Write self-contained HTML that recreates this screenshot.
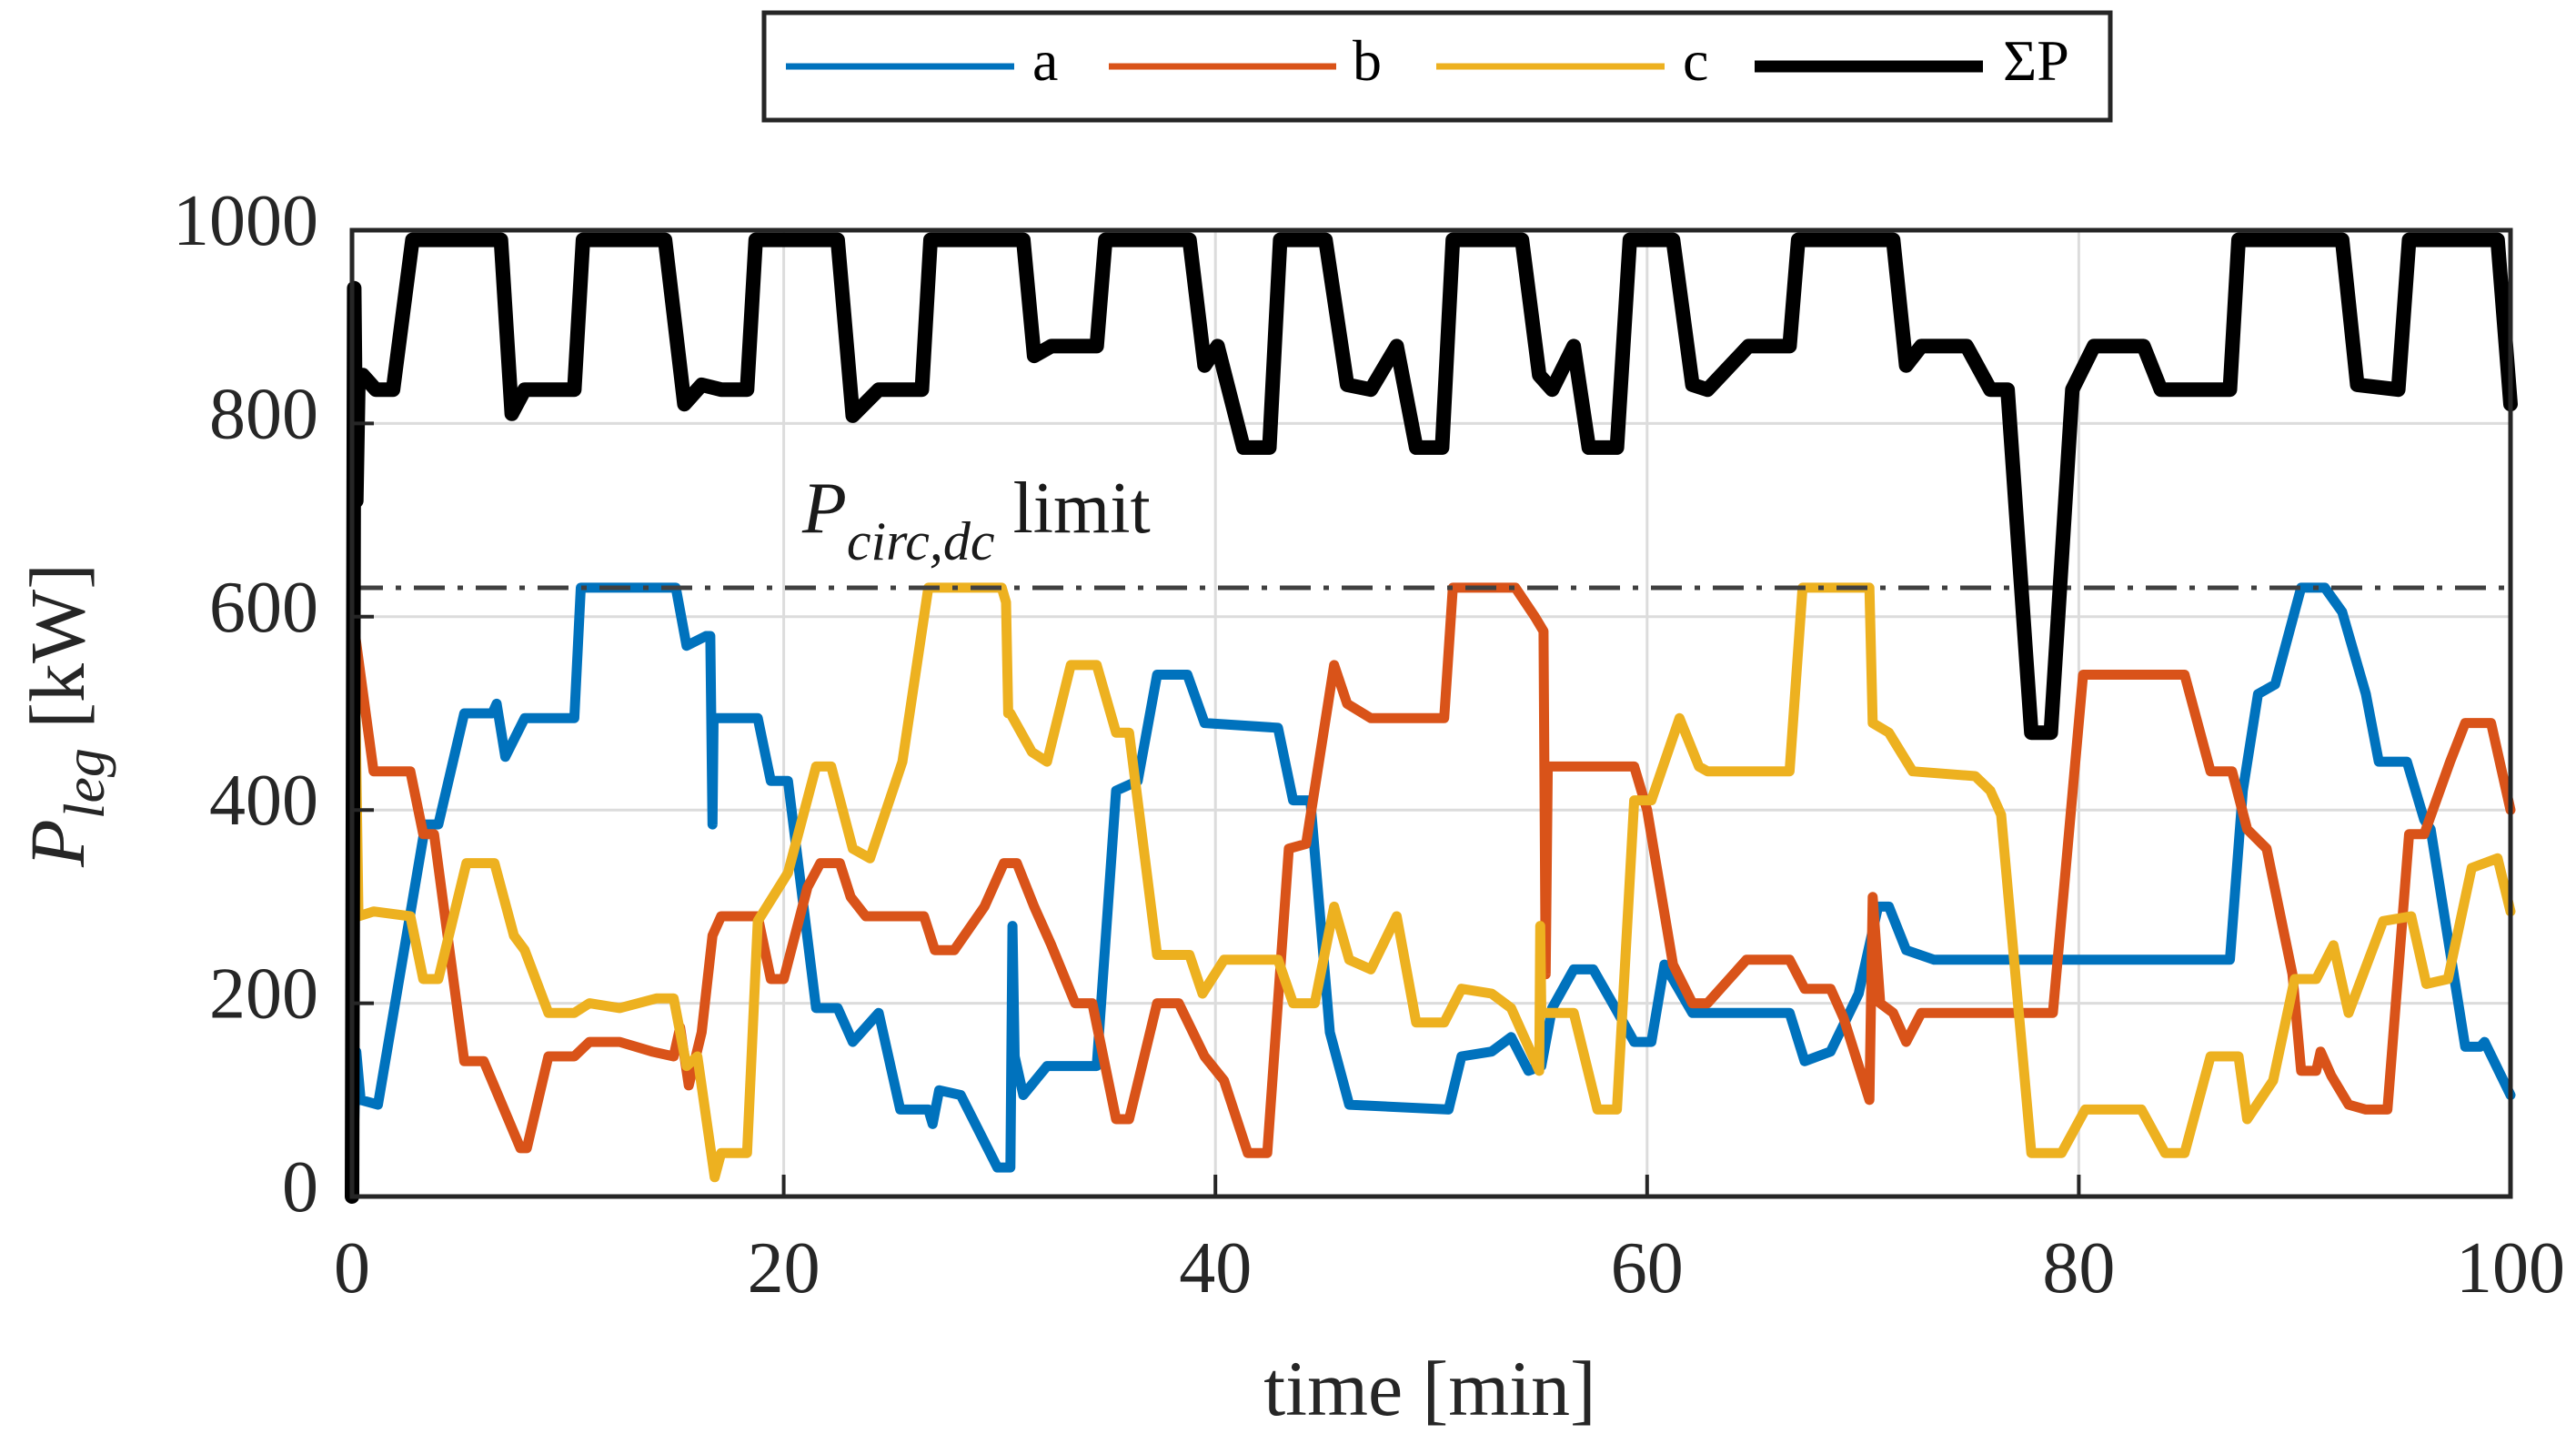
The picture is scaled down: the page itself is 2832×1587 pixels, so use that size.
<!DOCTYPE html>
<html><head><meta charset="utf-8"><style>
html,body{margin:0;padding:0;background:#fff;}
svg{display:block;font-family:"Liberation Serif",serif;}
</style></head><body>
<svg id="chart" width="2832" height="1587" viewBox="0 0 2832 1587" xmlns="http://www.w3.org/2000/svg">
<g id="grid"></g>
<g id="series"></g>
<g id="axes"></g>
<g>
<rect x="840" y="14" width="1480" height="118" fill="#fff" stroke="#262626" stroke-width="5"/>
<line x1="864" y1="73" x2="1115" y2="73" stroke="#0072BD" stroke-width="7"/>
<text x="1135" y="88" font-size="64" fill="#000">a</text>
<line x1="1219" y1="73" x2="1469" y2="73" stroke="#D95319" stroke-width="7"/>
<text x="1487" y="88" font-size="64" fill="#000">b</text>
<line x1="1579" y1="73" x2="1830" y2="73" stroke="#EDB120" stroke-width="7"/>
<text x="1850" y="88" font-size="64" fill="#000">c</text>
<line x1="1929" y1="73" x2="2180" y2="73" stroke="#000" stroke-width="13"/>
<text x="2202" y="88" font-size="64" fill="#000">ΣP</text>
</g>
<text x="1572" y="1555" font-size="86" text-anchor="middle" fill="#262626">time [min]</text>
<text transform="translate(92,786) rotate(-90)" font-size="86" text-anchor="middle" fill="#262626"><tspan font-style="italic">P</tspan><tspan font-style="italic" font-size="64" dy="22">leg</tspan><tspan dy="-22"> [kW]</tspan></text>
<text x="882" y="585" font-size="80" fill="#1a1a1a"><tspan font-style="italic">P</tspan><tspan font-style="italic" font-size="60" dy="30">circ,dc</tspan><tspan dy="-30"> limit</tspan></text>
</svg>
<script>
const xTicks=[0,20,40,60,80,100];
const yTicks=[0,200,400,600,800,1000];
const limitValue=630;
const tA=[0,0.2,0.4,1.2,3.4, 4.0,5.2,6.5,6.7,7.1, 8.0,10.3,10.6,15.0,15.5, 16.4,16.6,16.7,16.75,18.8, 19.4,20.2,21.5,22.5,23.2, 24.4,25.4,26.7,26.9,27.2, 28.2,29.9,30.5,30.6,30.7, 31.1,32.2,34.5,35.4,36.4, 37.3,38.7,39.5,42.9,43.6, 44.4,45.3,46.2,50.8,51.4, 52.8,53.7,54.5,55.1,55.6, 56.6,57.5,58.4,59.4,60.2, 60.8,62.1,66.6,67.3,68.5, 69.8,70.7,71.2,72.0,73.3, 87.0,87.6,88.3,89.1,90.3, 91.4,92.2,93.3,93.9,95.2, 96.0,96.3,97.9,98.6,98.8, 100];
const vA=[0,150,100,95,385, 385,500,500,510,455, 495,495,630,630,570, 580,580,385,495,495, 430,430,195,195,160, 190,90,90,75,110, 105,30,30,280,145, 105,135,135,420,430, 540,540,490,485,410, 410,170,95,90,145, 150,165,130,135,195, 235,235,200,160,160, 240,190,190,140,150, 210,300,300,255,245, 245,420,520,530,630, 630,605,520,450,450, 390,380,155,155,160, 105];
const tB=[0,0.15,1.0,2.7,3.3, 3.8,5.2,6.1,7.8,8.1, 9.1,10.3,11.0,12.4,13.9, 14.9,15.2,15.6,16.2,16.7, 17.1,18.8,19.4,20.0,21.1, 21.7,22.6,23.1,23.8,26.5, 27.0,27.9,29.3,30.2,30.8, 31.6,32.4,33.5,34.3,35.4, 36.0,37.3,38.3,39.5,40.4, 41.5,42.4,43.4,44.2,45.5, 46.1,47.2,50.6,51.0,53.9, 54.8,55.2,55.3,55.4,59.4, 60.0,61.2,62.1,62.8,64.6, 66.6,67.3,68.5,69.1,70.3, 70.45,70.8,71.4,72.0,72.7, 78.8,80.2,84.9,86.1,87.1, 87.8,88.7,89.9,90.3,91.0, 91.2,91.7,92.5,93.3,94.3, 95.3,96.0,97.2,97.9,99.1, 100];
const vB=[0,580,440,440,375, 375,140,140,50,50, 145,145,160,160,150, 145,175,115,170,270, 290,290,225,225,320, 345,345,310,290,290, 255,255,300,345,345, 300,260,200,200,80, 80,200,200,145,120, 45,45,360,365,550, 510,495,495,630,630, 600,585,230,445,445, 400,240,200,200,245, 245,215,215,185,100, 310,200,190,160,190, 190,540,540,440,440, 380,360,230,130,130, 150,125,95,90,90, 375,375,450,490,490, 400];
const tC=[0,0.1,0.3,1.0,2.7, 3.3,4.0,5.3,6.6,7.5, 8.0,9.1,10.3,11.0,12.4, 14.1,14.9,15.5,16.0,16.8, 17.1,18.3,18.8,20.2,21.5, 22.2,23.2,24.0,25.5,26.7, 30.1,30.3,30.4,30.5,31.5, 32.2,33.3,34.5,35.4,36.0, 37.3,38.8,39.4,40.4,42.9, 43.6,44.6,45.5,46.2,47.2, 48.4,49.3,50.6,51.4,52.8, 53.7,55.0,55.05,55.1,56.6, 57.7,58.6,59.4,60.2,61.5, 62.4,62.8,66.6,67.2,70.3, 70.45,71.2,72.3,75.2,75.9, 76.4,77.8,79.2,80.3,82.9, 84.0,84.9,86.1,87.4,87.8, 89.0,90.0,91.0,91.8,92.5, 94.1,95.4,96.1,97.1,98.2, 99.4,100];
const vC=[0,600,290,295,290, 225,225,345,345,270, 255,190,190,200,195, 205,205,135,145,20, 45,45,285,335,445, 445,360,350,450,630, 630,615,500,500,460, 450,550,550,480,480, 250,250,210,245,245, 200,200,300,245,235, 290,180,180,215,210, 195,130,280,190,190, 90,90,410,410,495, 445,440,440,630,630, 490,480,440,435,420, 395,45,45,90,90, 45,45,145,145,80, 120,225,225,260,190, 285,290,220,225,340, 350,295];
const tS=[0,0.1,0.2,0.3,0.5, 1.1,1.9,2.8,6.9,7.4, 8.0,10.3,10.7,14.5,15.4, 16.2,17.1,18.3,18.7,22.5, 23.2,24.4,26.4,26.8,31.1, 31.6,32.4,34.5,34.9,38.8, 39.5,40.1,41.3,42.5,43.0, 45.1,46.1,47.2,48.4,49.3, 50.5,51.0,54.2,55.0,55.6, 56.6,57.3,58.6,59.2,61.2, 62.1,62.8,64.7,66.6,67.0, 71.4,72.0,72.7,74.8,75.9, 76.7,77.8,78.7,79.7,80.7, 83.0,83.8,87.0,87.4,92.2, 92.9,94.8,95.3,99.4,100];
const vS=[0,940,720,850,850, 835,835,990,990,810, 835,835,990,990,820, 840,835,835,990,990, 808,835,835,990,990, 870,880,880,990,990, 860,880,775,775,990, 990,840,835,880,775, 775,990,990,850,835, 880,775,775,990,990, 840,835,880,880,990, 990,860,880,880,835, 835,480,480,835,880, 880,835,835,990,990, 840,835,990,990,820];

const NS='http://www.w3.org/2000/svg';
const L=387,R=2760,T=253,B=1315;
const xs=t=>L+(t-0)/(100-0)*(R-L);
const ys=v=>B-(v-0)/(1000-0)*(B-T);
const grid=document.getElementById('grid'),axes=document.getElementById('axes'),ser=document.getElementById('series');
function mk(tag,attrs,parent){const e=document.createElementNS(NS,tag);for(const k in attrs)e.setAttribute(k,attrs[k]);parent.appendChild(e);return e;}
xTicks.forEach(t=>{
  if(t>0&&t<100){const g=mk('line',{x1:xs(t),x2:xs(t),y1:T,y2:B,stroke:'#dcdcdc','stroke-width':3},grid);
  
  }
  const tk=mk('line',{x1:xs(t),x2:xs(t),y1:B,y2:B-24,stroke:'#262626','stroke-width':4},axes);
  
  
  const lb=mk('text',{x:xs(t),y:1420,'font-size':80,'text-anchor':'middle',fill:'#262626'},axes);
  lb.textContent=t;
  
  
});
yTicks.forEach(v=>{
  if(v>0&&v<1000){const g=mk('line',{x1:L,x2:R,y1:ys(v),y2:ys(v),stroke:'#dcdcdc','stroke-width':3},grid);
  
  }
  const tk=mk('line',{x1:L,x2:L+24,y1:ys(v),y2:ys(v),stroke:'#262626','stroke-width':4},axes);
  
  
  const lb=mk('text',{x:350,y:ys(v)+16,'font-size':80,'text-anchor':'end',fill:'#262626'},axes);
  lb.textContent=v;
  
  
});
const fr=mk('rect',{x:L,y:T,width:R-L,height:B-T,fill:'none',stroke:'#262626','stroke-width':5},axes);


function line(ts,vs,color,w,name){
  const p=ts.map((t,i)=>xs(t).toFixed(1)+','+ys(vs[i]).toFixed(1)).join(' ');
  const e=mk('polyline',{points:p,fill:'none',stroke:color,'stroke-width':w,'stroke-linejoin':'round','stroke-linecap':'round'},ser);
  
  
}
line(tA,vA,'#0072BD',11,'series-a-line');
line(tB,vB,'#D95319',11,'series-b-line');
line(tC,vC,'#EDB120',11,'series-c-line');
const lim=mk('line',{x1:L,x2:R,y1:ys(limitValue),y2:ys(limitValue),stroke:'#404040','stroke-width':5,'stroke-dasharray':'34 14 6 14'},ser);


line(tS,vS,'#000',16,'sum-power-line');
</script>
</body></html>
